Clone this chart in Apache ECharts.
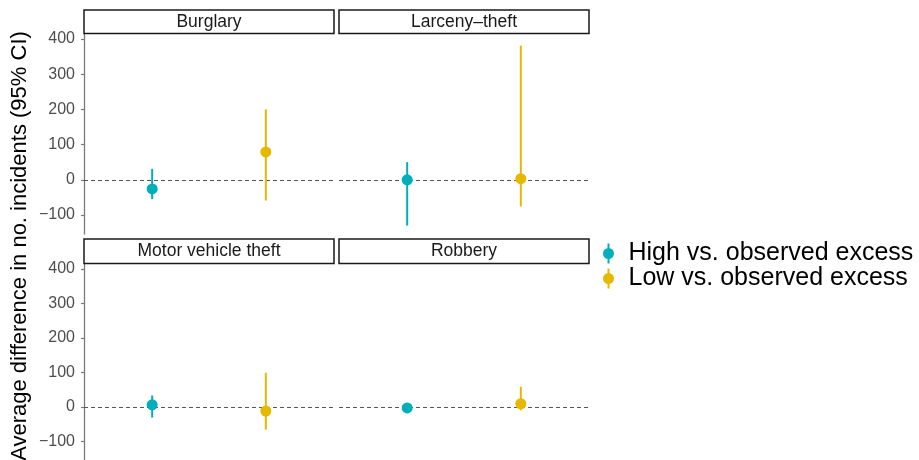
<!DOCTYPE html>
<html><head><meta charset="utf-8">
<script src="https://cdn.jsdelivr.net/npm/echarts@6/dist/echarts.min.js"></script>
<style>html,body{margin:0;padding:0;background:#fff}#c{width:919px;height:460px}</style>
</head><body><div id="c"></div>
<script>
const panels = ['Burglary', 'Larceny\u2013theft', 'Motor vehicle theft', 'Robbery'];
const seriesNames = ['High vs. observed excess', 'Low vs. observed excess'];
const highMean = [-26, 0, 6, -3];
const highLo   = [-55, -130, -31, -10];
const highHi   = [31, 50, 33, 4];
const lowMean  = [79, 3, -12, 9];
const lowLo    = [-59, -76, -66, -10];
const lowHi    = [200, 381, 99, 58];
const yTicks = [-100, 0, 100, 200, 300, 400];
const xPos = [1, 2];

const colors = ['#00AFBB', '#E7B800'];
const FONT = '"Liberation Sans", Arial, Helvetica, sans-serif';
const layout = [
  {left: 84, top: 34, width: 250, height: 200, stripTop: 10, axis: true},
  {left: 339, top: 34, width: 250, height: 200, stripTop: 10, axis: false},
  {left: 84, top: 264, width: 250, height: 200, stripTop: 239, axis: true},
  {left: 339, top: 264, width: 250, height: 200, stripTop: 239, axis: false}
];
const chart = echarts.init(document.getElementById('c'), null, {renderer: 'canvas'});
const grids = [], xAxes = [], yAxes = [], series = [], graphics = [];
const groups = [
  {mean: highMean, lo: highLo, hi: highHi},
  {mean: lowMean, lo: lowLo, hi: lowHi}
];
layout.forEach((L, i) => {
  grids.push({left: L.left, top: L.top, width: L.width, height: L.height});
  xAxes.push({gridIndex: i, type: 'value', min: 0.4, max: 2.6, show: false});
  yAxes.push({
    gridIndex: i, type: 'value', min: -154, max: 414,
    splitLine: {show: false},
    axisLine: {show: L.axis, lineStyle: {color: '#7a7a7a', width: 1.3}},
    axisTick: {show: L.axis, length: 3, lineStyle: {color: '#7a7a7a', width: 1.2}, customValues: yTicks},
    axisLabel: {show: L.axis, customValues: yTicks, color: '#4d4d4d', fontSize: 16, fontFamily: FONT, margin: 9,
      formatter: v => String(v).replace('-', '\u2212')}
  });
  groups.forEach((g, k) => {
    series.push({
      name: seriesNames[k], type: 'custom', xAxisIndex: i, yAxisIndex: i,
      data: [[xPos[k], g.lo[i], g.hi[i]]],
      renderItem: (params, api) => {
        const p1 = api.coord([api.value(0), api.value(1)]);
        const p2 = api.coord([api.value(0), api.value(2)]);
        return {type: 'line', shape: {x1: p1[0], y1: p1[1], x2: p2[0], y2: p2[1]},
          style: {stroke: colors[k], lineWidth: 2}};
      },
      itemStyle: {color: colors[k]}, silent: true, z: 3
    });
    const sc = {
      name: seriesNames[k], type: 'scatter', xAxisIndex: i, yAxisIndex: i,
      data: [[xPos[k], g.mean[i]]], symbolSize: 11,
      itemStyle: {color: colors[k], opacity: 1}, silent: true, z: 4
    };
    if (k === 0) {
      sc.markLine = {silent: true, symbol: 'none', label: {show: false},
        lineStyle: {type: [4, 3], color: '#555', width: 1}, data: [{yAxis: 0}], z: 1};
    }
    series.push(sc);
  });
  graphics.push({type: 'rect', shape: {x: L.left, y: L.stripTop, width: L.width, height: L.top - L.stripTop - 0.5},
    style: {fill: '#fff', stroke: '#1a1a1a', lineWidth: 1.5}, z: 10});
  graphics.push({type: 'text', x: L.left + L.width / 2, y: L.stripTop + (L.top - L.stripTop) / 2,
    style: {text: panels[i], font: '17.5px ' + FONT, fill: '#1a1a1a', textAlign: 'center', textVerticalAlign: 'middle'}, z: 11});
});
graphics.push({type: 'text', x: 20, y: 246, rotation: Math.PI / 2,
  style: {text: 'Average difference in no. incidents (95% CI)', font: '22px ' + FONT, fill: '#000',
    textAlign: 'center', textVerticalAlign: 'middle'}});

chart.setOption({
  animation: false,
  grid: grids, xAxis: xAxes, yAxis: yAxes, series: series, graphic: graphics,
  legend: {
    orient: 'vertical', left: 603, top: 241, itemGap: 0, padding: 0,
    itemWidth: 30, itemHeight: 20,
    icon: 'path://M5,0H7V20H5Z M6,4.5A5.5,5.5 0 1 1 5.99,4.5Z',
    data: seriesNames,
    textStyle: {fontSize: 25, lineHeight: 24, fontFamily: FONT, color: '#000'},
    selectedMode: false
  }
});
</script></body></html>
